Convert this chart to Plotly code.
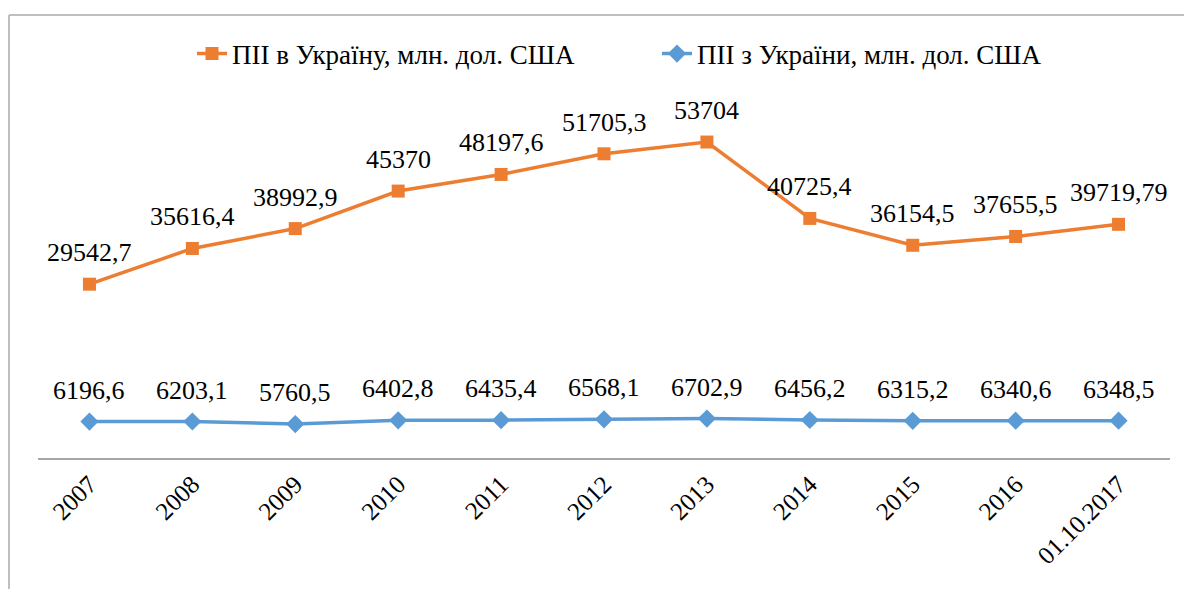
import plotly.graph_objects as go

categories = ["2007", "2008", "2009", "2010", "2011", "2012", "2013", "2014", "2015", "2016", "01.10.2017"]
fdi_in = [29542.7, 35616.4, 38992.9, 45370, 48197.6, 51705.3, 53704, 40725.4, 36154.5, 37655.5, 39719.79]
fdi_in_labels = ["29542,7", "35616,4", "38992,9", "45370", "48197,6", "51705,3", "53704", "40725,4", "36154,5", "37655,5", "39719,79"]
fdi_out = [6196.6, 6203.1, 5760.5, 6402.8, 6435.4, 6568.1, 6702.9, 6456.2, 6315.2, 6340.6, 6348.5]
fdi_out_labels = ["6196,6", "6203,1", "5760,5", "6402,8", "6435,4", "6568,1", "6702,9", "6456,2", "6315,2", "6340,6", "6348,5"]
name_in = "ПІІ в Україну, млн. дол. США"
name_out = "ПІІ з України, млн. дол. США"

FONT = "Liberation Serif, Times New Roman, serif"
ORANGE = "#ED7D31"
BLUE = "#5B9BD5"

W, H = 1184, 589
L, R, T, B = 38, 14, 105, 131
pw, ph = W - L - R, H - T - B

fig = go.Figure()
fig.add_trace(go.Scatter(x=categories, y=fdi_in, name=name_in, mode="lines+markers",
                         line=dict(color=ORANGE, width=3.5),
                         marker=dict(symbol="square", size=13, color=ORANGE)))
fig.add_trace(go.Scatter(x=categories, y=fdi_out, name=name_out, mode="lines+markers",
                         line=dict(color=BLUE, width=3.5),
                         marker=dict(symbol="diamond", size=14, color=BLUE)))

for ys, labs in [(fdi_in, fdi_in_labels), (fdi_out, fdi_out_labels)]:
    for i, (y, t) in enumerate(zip(ys, labs)):
        fig.add_annotation(x=i, y=y, xref="x", yref="y", text=t, showarrow=False, yanchor="bottom",
                           yshift=15, font=dict(family=FONT, size=26, color="#000000"))

def px_x(p):
    return (p - L) / pw

def px_y(p):
    return (H - B - p) / ph

border = "#AAAAAA"
fig.add_shape(type="line", xref="paper", yref="paper", x0=px_x(9), x1=px_x(9), y0=px_y(15), y1=px_y(600),
              line=dict(color=border, width=1.5))
fig.add_shape(type="line", xref="paper", yref="paper", x0=px_x(9), x1=px_x(1200), y0=px_y(15), y1=px_y(15),
              line=dict(color=border, width=1.5))

fig.update_layout(
    width=W, height=H,
    margin=dict(l=L, r=R, t=T, b=B, autoexpand=False),
    paper_bgcolor="white", plot_bgcolor="white",
    font=dict(family=FONT, size=24, color="#000000"),
    showlegend=True,
    legend=dict(orientation="h", x=px_x(192), xanchor="left", y=px_y(54), yanchor="middle",
                font=dict(family=FONT, size=27, color="#000000"),
                entrywidth=420, entrywidthmode="pixels",
                bgcolor="rgba(0,0,0,0)"),
    xaxis=dict(type="category", range=[-0.5, 10.5], showgrid=False, zeroline=False, automargin=False,
               showline=True, linecolor="#A6A6A6", linewidth=1.5, ticks="", tickangle=-45,
               tickfont=dict(family=FONT, size=25, color="#000000"), fixedrange=True),
    yaxis=dict(range=[0, 60000], visible=False, showgrid=False, zeroline=False, fixedrange=True,
               automargin=False),
)

fig.write_html("out.html", config={"displayModeBar": False},
               post_script="document.body.style.margin='0px';document.body.style.overflow='hidden';")
